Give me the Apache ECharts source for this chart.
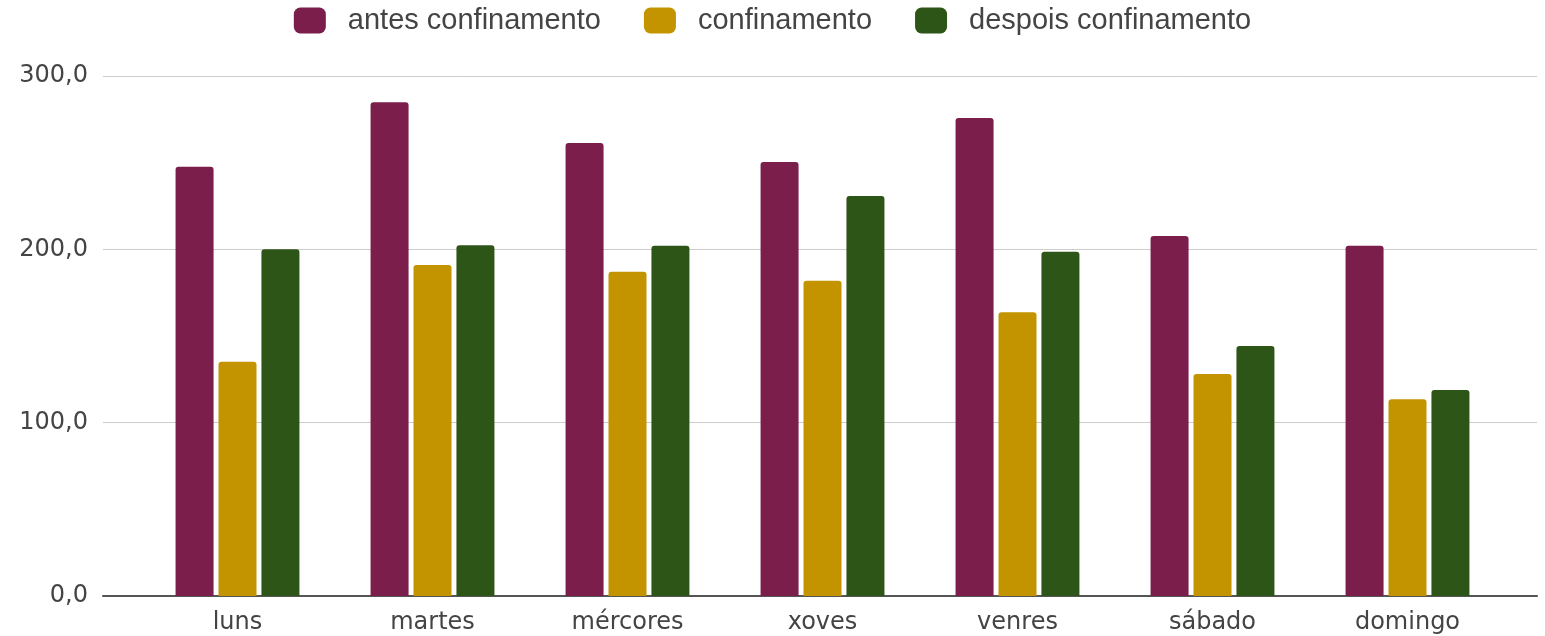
<!DOCTYPE html>
<html>
<head>
<meta charset="utf-8">
<script src="https://cdn.jsdelivr.net/npm/echarts@6/dist/echarts.min.js"></script>
<style>
html,body{margin:0;padding:0;background:#fff;}
#chart{width:1545px;height:636px;}
</style>
</head>
<body>
<div id="chart"></div>
<script>
const categories = ['luns', 'martes', 'mércores', 'xoves', 'venres', 'sábado', 'domingo'];
const seriesNames = ['antes confinamento', 'confinamento', 'despois confinamento'];
const antes = [247.7, 284.8, 261.4, 250.4, 275.8, 207.7, 202.1];
const confinamento = [135.2, 191.0, 187.0, 181.9, 163.7, 128.1, 113.5];
const despois = [200.0, 202.3, 202.0, 230.8, 198.6, 144.2, 118.8];
const yTicks = [0, 100, 200, 300];
const colors = ['#7B1E4B', '#C39400', '#2E5518'];

const chart = echarts.init(document.getElementById('chart'), null, {renderer: 'canvas'});
const axisFont = {fontFamily: 'DejaVu Sans', fontSize: 24, color: '#444'};
const yMin = yTicks[0], yMax = yTicks[yTicks.length - 1], yStep = yTicks[1] - yTicks[0];

function bar(name, data, i) {
  return {
    name: name, type: 'bar', data: data,
    xAxisIndex: 1, yAxisIndex: 1,
    barWidth: 38, barGap: '13%',
    itemStyle: {color: colors[i], borderRadius: [3, 3, 0, 0]}
  };
}

chart.setOption({
  animation: false,
  backgroundColor: '#fff',
  color: colors,
  legend: {
    top: 1, left: 'center',
    itemWidth: 32, itemHeight: 26, itemGap: 43,
    icon: 'roundRect',
    textStyle: {fontFamily: 'Liberation Sans', fontSize: 29, color: '#444', padding: [0, 0, 0, 17]},
    data: seriesNames
  },
  grid: [
    {left: 103, right: 8, top: 76, bottom: 40},
    {left: 140, right: 40, top: 76, bottom: 40}
  ],
  xAxis: [
    {type: 'value', gridIndex: 0, min: 0, max: 1,
     axisLine: {show: true, lineStyle: {color: '#555', width: 2}},
     axisTick: {show: false}, axisLabel: {show: false}, splitLine: {show: false}},
    {type: 'category', gridIndex: 1, data: categories,
     axisLine: {show: false}, axisTick: {show: false},
     axisLabel: Object.assign({margin: 15}, axisFont)}
  ],
  yAxis: [
    {type: 'value', gridIndex: 0, min: yMin, max: yMax, interval: yStep,
     axisLine: {show: false}, axisTick: {show: false},
     axisLabel: Object.assign({margin: 15, formatter: v => v.toFixed(1).replace('.', ',')}, axisFont),
     splitLine: {lineStyle: {color: '#cccccc', width: 1}}},
    {type: 'value', gridIndex: 1, min: yMin, max: yMax, interval: yStep,
     show: false, splitLine: {show: false}}
  ],
  series: [
    bar(seriesNames[0], antes, 0),
    bar(seriesNames[1], confinamento, 1),
    bar(seriesNames[2], despois, 2)
  ]
});
</script>
</body>
</html>
